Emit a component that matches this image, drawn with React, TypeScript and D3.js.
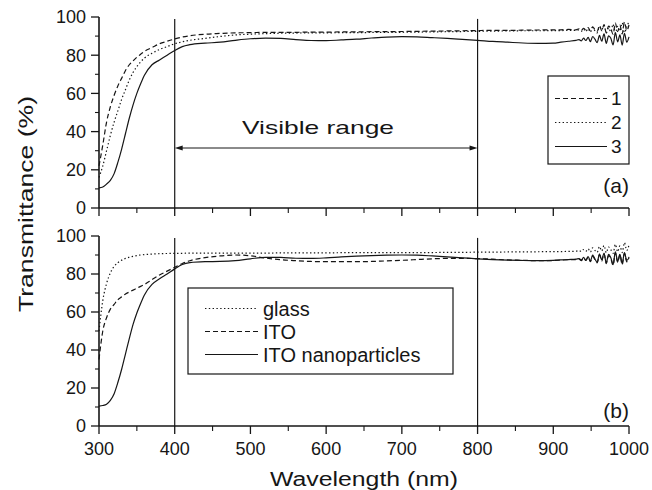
import * as d3 from "d3";

// wavelength grid (nm), denser in the noisy tail
const wavelength = [
  300, 305, 310, 315, 320, 325, 330, 335, 340, 345, 350, 355, 360,
  370, 380, 390, 400, 410, 420,
  440, 460, 480, 500, 520, 540, 560, 580, 600, 620, 640, 660, 680, 700,
  720, 740, 760, 780, 800, 820, 840, 860, 880, 900,
  910, 920, 930,
  934, 937, 940, 943, 946, 949, 952, 955, 958, 961, 964, 967, 970,
  973, 976, 979, 982, 985, 988, 991, 994, 997, 1000,
];

// panel (a)
const sample1 = [
  22, 33, 45, 53, 59, 64, 68, 72, 75, 77, 79, 80.5, 82,
  84, 86, 87.3, 88.5, 89.5, 90.2,
  91, 91.4, 91.7, 91.8, 92, 92, 92, 92.1, 92.1, 92.2, 92.2, 92.3, 92.3, 92.4,
  92.5, 92.6, 92.7, 92.8, 92.9, 93, 93, 93.1, 93.2, 93.3,
  93.3, 93.5, 93.3,
  93.8, 93.0, 94.1, 93.2, 94.5, 92.7, 94.9, 93.3, 92.4, 95.5, 92.8, 96.0, 91.6,
  95.2, 93.8, 90.9, 96.8, 92.3, 95.7, 91.2, 97.4, 92.9, 95.8,
];
const sample2 = [
  16, 22, 30, 38, 45, 51, 57, 62, 67, 71, 74, 76.5, 78.5,
  81, 83, 84.5, 86, 87, 87.8,
  88.8, 89.8, 90.6, 91, 91.3, 91.5, 91.6, 91.7, 91.7, 91.8, 91.8, 91.9, 92, 92,
  92.1, 92.2, 92.3, 92.4, 92.5, 92.6, 92.7, 92.8, 92.8, 92.9,
  92.9, 93, 93,
  93.2, 92.6, 93.7, 92.4, 93.9, 92.1, 94.6, 92.8, 91.7, 94.9, 93.4, 95.6, 91.9,
  94.3, 92.2, 96.2, 91.4, 95.1, 92.6, 96.9, 91.8, 94.7, 97.8,
];
const sample3 = [
  10.5, 11, 12.5, 14.5, 18, 24, 31, 39, 47, 54, 60, 65, 69.5,
  75, 77.5, 80, 82.5, 84.5, 85.5,
  86.3, 86.8, 87.8, 88.6, 88.9, 88.8, 88.2, 87.7, 87.6, 88, 88.4, 89, 89.5, 89.7,
  89.6, 89.2, 88.8, 88.3, 87.8, 87.2, 86.8, 86.4, 86.2, 86.3,
  86.8, 87.3, 87.8,
  88.2, 87.5, 88.9, 87.7, 89.3, 87.1, 89.8, 88.4, 86.6, 90.4, 87.3, 91.2, 86.2,
  90.1, 88.9, 85.4, 91.8, 87.0, 90.6, 85.3, 91.5, 86.8, 89.6,
];

// panel (b)
const glass = [
  50, 66, 75, 80.5, 84, 86, 87.3, 88.2, 88.8, 89.3, 89.7, 90, 90.2,
  90.5, 90.7, 90.8, 90.9, 90.9, 91,
  91, 91, 91, 91, 91, 91.1, 91.1, 91.1, 91.1, 91.2, 91.2, 91.2, 91.2, 91.3,
  91.3, 91.3, 91.4, 91.4, 91.5, 91.5, 91.6, 91.6, 91.7, 91.8,
  91.8, 91.9, 92,
  92.3, 91.8, 92.9, 92.0, 93.3, 91.6, 93.8, 92.4, 91.4, 94.4, 92.1, 95.0, 91.2,
  94.2, 92.8, 90.9, 95.6, 91.7, 94.8, 91.3, 96.5, 92.4, 95.2,
];
const ito = [
  35, 50, 57, 61.5, 64, 66.5, 68, 69.5, 70.5, 71.5, 72.5, 73.5, 74.5,
  77, 79.5, 81.5, 83.5, 85.5, 87,
  88.6, 89.5, 90, 89.6, 88.4, 87.5, 87, 86.6, 86.5, 86.5, 86.5, 86.6, 86.9, 87.2,
  87.6, 88, 88.2, 88.2, 88.1, 87.8, 87.4, 87.2, 87, 87.1,
  87.3, 87.5, 87.6,
  87.8, 87.0, 88.4, 87.2, 88.9, 86.5, 89.4, 87.6, 85.9, 90.1, 86.8, 90.8, 85.5,
  89.7, 88.2, 84.6, 91.3, 86.1, 90.2, 84.9, 90.9, 86.4, 89.0,
];
const itoNano = [
  10.5, 10.8, 11.5, 13.5, 17, 23, 30, 38, 46, 53.5, 59.5, 64.5, 69,
  74.5, 77.5, 80, 82.7, 85, 86,
  86.5, 86.6, 87, 88, 88.8, 88.7, 88.3, 88.2, 88.5, 89, 89.4, 89.7, 89.9, 90,
  89.9, 89.5, 89, 88.5, 88, 87.6, 87.3, 87.1, 87, 87.2,
  87.4, 87.6, 87.8,
  88.1, 87.4, 88.7, 87.1, 89.2, 86.8, 89.9, 87.9, 86.2, 90.6, 87.5, 91.0, 85.8,
  90.3, 88.6, 84.9, 91.7, 86.5, 90.4, 85.6, 91.2, 87.2, 88.4,
];

const xTicks = [300, 400, 500, 600, 700, 800, 900, 1000];
const xMinor = [350, 450, 550, 650, 750, 850, 950];
const yTicks = [0, 20, 40, 60, 80, 100];
const yMinor = [10, 30, 50, 70, 90];
const legendA = ["1", "2", "3"];
const legendB = ["glass", "ITO", "ITO nanoparticles"];

const W = 652;
const H = 490;
const FONT = "'Liberation Sans', Arial, Helvetica, sans-serif";
const INK = "#161616";
const DASH = "5,3";
const DOT = "1.4,2.4";

const x = d3.scaleLinear().domain([300, 1000]).range([99, 629]);
const yA = d3.scaleLinear().domain([0, 100]).range([208, 17]);
const yB = d3.scaleLinear().domain([0, 100]).range([426, 236]);

function Panel({ y, series, showLabels }) {
  const y0 = y(0);
  return (
    <g>
      {series.map((s, i) => {
        const line = d3
          .line<number>()
          .x((_, j) => x(wavelength[j]))
          .y((d) => y(d))
          .curve(d3.curveMonotoneX);
        return (
          <path
            key={i}
            d={line(s.values) || ""}
            fill="none"
            stroke={INK}
            strokeWidth={1.2}
            strokeDasharray={s.dash}
          />
        );
      })}
      {[400, 800].map((v) => (
        <line key={v} x1={x(v)} x2={x(v)} y1={y(99)} y2={y0} stroke={INK} strokeWidth={1.2} />
      ))}
      {/* axes */}
      <line x1={x(300)} x2={x(1000)} y1={y0} y2={y0} stroke={INK} strokeWidth={1.6} />
      <line x1={x(300)} x2={x(300)} y1={y(100)} y2={y0} stroke={INK} strokeWidth={1.6} />
      {xTicks.map((t) => (
        <line key={t} x1={x(t)} x2={x(t)} y1={y0} y2={y0 + 8} stroke={INK} strokeWidth={1.3} />
      ))}
      {xMinor.map((t) => (
        <line key={t} x1={x(t)} x2={x(t)} y1={y0} y2={y0 + 5} stroke={INK} strokeWidth={1.1} />
      ))}
      {yTicks.map((t) => (
        <g key={t}>
          <line x1={x(300) - 8} x2={x(300)} y1={y(t)} y2={y(t)} stroke={INK} strokeWidth={1.3} />
          <text
            x={86}
            y={y(t)}
            dy="0.36em"
            textAnchor="end"
            fontSize={18}
            fontFamily={FONT}
            fill={INK}
          >
            {t}
          </text>
        </g>
      ))}
      {yMinor.map((t) => (
        <line key={t} x1={x(300) - 4} x2={x(300)} y1={y(t)} y2={y(t)} stroke={INK} strokeWidth={1.1} />
      ))}
      {showLabels &&
        xTicks.map((t) => (
          <text
            key={t}
            x={x(t)}
            y={455}
            textAnchor="middle"
            fontSize={18}
            fontFamily={FONT}
            fill={INK}
          >
            {t}
          </text>
        ))}
    </g>
  );
}

export default function App() {
  const seriesA = [
    { values: sample1, dash: DASH },
    { values: sample2, dash: DOT },
    { values: sample3, dash: undefined },
  ];
  const seriesB = [
    { values: glass, dash: DOT },
    { values: ito, dash: DASH },
    { values: itoNano, dash: undefined },
  ];
  const arrowY = 148;
  const ax0 = x(400);
  const ax1 = x(800);

  return (
    <svg
      width={W}
      height={H}
      style={{ position: "absolute", left: 0, top: 0, background: "#fff" }}
    >
      <rect width={W} height={H} fill="#fff" />
      <Panel y={yA} series={seriesA} showLabels={false} />
      <Panel y={yB} series={seriesB} showLabels={true} />

      {/* visible range arrow */}
      <line x1={ax0 + 6} x2={ax1 - 6} y1={arrowY} y2={arrowY} stroke={INK} strokeWidth={1} />
      <path d={`M${ax0},${arrowY} l8,-2.5 l0,5 z`} fill={INK} />
      <path d={`M${ax1},${arrowY} l-8,-2.5 l0,5 z`} fill={INK} />
      <text
        x={318}
        y={134}
        textAnchor="middle"
        fontSize={19}
        fontFamily={FONT}
        fill={INK}
        textLength={152}
        lengthAdjust="spacingAndGlyphs"
      >
        Visible range
      </text>

      {/* legend (a) */}
      <rect x={548} y={76} width={81} height={88} fill="#fff" stroke={INK} strokeWidth={1.2} />
      {legendA.map((lab, i) => {
        const ly = 98.5 + i * 24;
        return (
          <g key={lab}>
            <line
              x1={555}
              x2={607}
              y1={ly}
              y2={ly}
              stroke={INK}
              strokeWidth={1.2}
              strokeDasharray={seriesA[i].dash}
            />
            <text x={611} y={ly} dy="0.36em" fontSize={19} fontFamily={FONT} fill={INK}>
              {lab}
            </text>
          </g>
        );
      })}
      <text x={629} y={193} textAnchor="end" fontSize={21} fontFamily={FONT} fill={INK}>
        (a)
      </text>

      {/* legend (b) */}
      <rect x={188} y={288} width={265} height={86} fill="#fff" stroke={INK} strokeWidth={1.2} />
      {legendB.map((lab, i) => {
        const ly = 308.5 + i * 23;
        return (
          <g key={lab}>
            <line
              x1={205}
              x2={258}
              y1={ly}
              y2={ly}
              stroke={INK}
              strokeWidth={1.2}
              strokeDasharray={seriesB[i].dash}
            />
            <text x={263} y={ly} dy="0.36em" fontSize={20} fontFamily={FONT} fill={INK}>
              {lab}
            </text>
          </g>
        );
      })}
      <text x={629} y={418} textAnchor="end" fontSize={21} fontFamily={FONT} fill={INK}>
        (b)
      </text>

      {/* axis titles */}
      <text
        x={364}
        y={486}
        textAnchor="middle"
        fontSize={20}
        fontFamily={FONT}
        fill={INK}
        textLength={188}
        lengthAdjust="spacingAndGlyphs"
      >
        Wavelength (nm)
      </text>
      <text
        transform="translate(33,204) rotate(-90)"
        textAnchor="middle"
        fontSize={20}
        fontFamily={FONT}
        fill={INK}
        textLength={216}
        lengthAdjust="spacingAndGlyphs"
      >
        Transmittance (%)
      </text>
    </svg>
  );
}
